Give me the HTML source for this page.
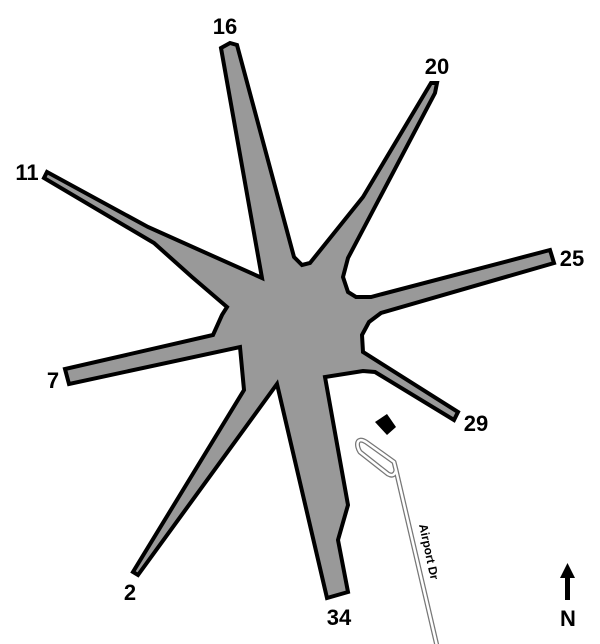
<!DOCTYPE html>
<html><head><style>
html,body{margin:0;padding:0;background:#fff;}
svg{display:block}
text{font-family:"Liberation Sans Narrow","Liberation Sans",sans-serif;font-weight:bold;}
</style></head><body>
<svg width="600" height="644" viewBox="0 0 600 644" xmlns="http://www.w3.org/2000/svg">
<path d="M221,48 L230,43 L237,45 L294,257 L302,265 L310,263 L363,197 L431,83 L437,83 L435,93 L348,258 L343,277 L348,292 L356,297 L371,297 L550,250 L554,263 L381,313 L369,322 L362,335 L363,352 L458,412 L454,420 L375,372 L363,371 L325,377 L348,505 L338,540 L348,592 L327,598 L277,384 L138,575 L133,572 L244,390 L240,347 L69,384 L65,369 L213,335 L222,315 L227,307 L192,277 L154,243 L44,178 L47,172 L148,227 L262,278 Z" fill="#999" stroke="#000" stroke-width="4" stroke-linejoin="miter"/>
<polygon points="375,422 387,414 396,427 387,435" fill="#000"/>
<path d="M437,646 L396,470 L394,462 L366,442 C356,436 356,446 360,452 L388,474 C395,478 396,470 396,470" fill="none" stroke="#777" stroke-width="5" stroke-linejoin="round"/>
<path d="M437,646 L396,470 L394,462 L366,442 C356,436 356,446 360,452 L388,474 C395,478 396,470 396,470" fill="none" stroke="#fff" stroke-width="2.5" stroke-linejoin="round"/>
<text x="428" y="552" font-size="12" text-anchor="middle" dominant-baseline="middle" transform="rotate(78 428 552)">Airport Dr</text>
<g font-size="22" text-anchor="middle">
<text x="225" y="34">16</text>
<text x="437" y="74">20</text>
<text x="27" y="180">11</text>
<text x="572" y="266">25</text>
<text x="53" y="388">7</text>
<text x="476" y="431">29</text>
<text x="130" y="600">2</text>
<text x="339" y="625">34</text>
<text x="568" y="626">N</text>
</g>
<rect x="565" y="576" width="5" height="24" fill="#000"/>
<polygon points="567.5,563 560,578 575,578" fill="#000"/>
</svg>
</body></html>
